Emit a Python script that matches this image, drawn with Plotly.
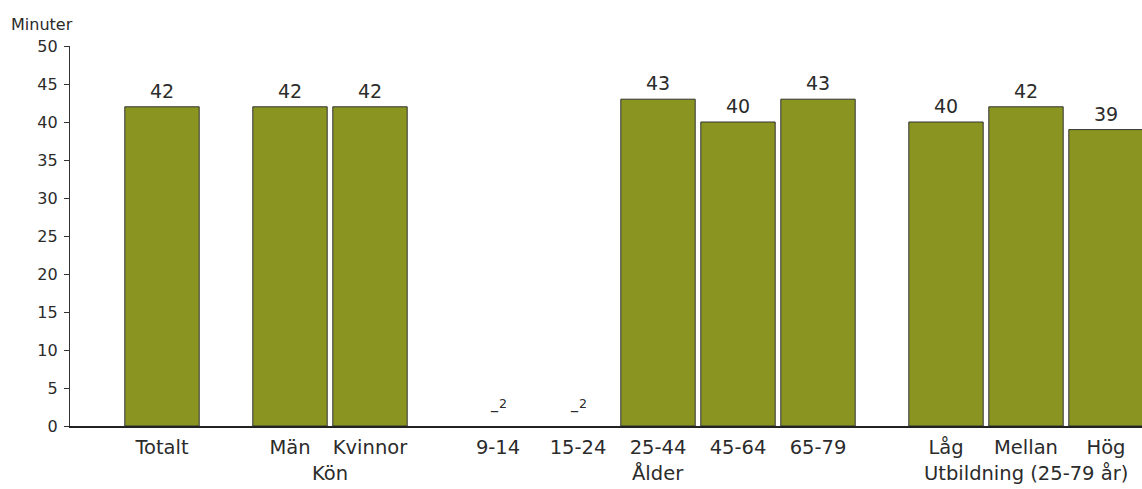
import plotly.graph_objects as go

# ---- data ----
categories = ["Totalt", "Män", "Kvinnor", "9-14", "15-24", "25-44", "45-64", "65-79", "Låg", "Mellan", "Hög"]
groups = ["", "Kön", "Kön", "Ålder", "Ålder", "Ålder", "Ålder", "Ålder",
          "Utbildning (25-79 år)", "Utbildning (25-79 år)", "Utbildning (25-79 år)"]
minutes = [42, 42, 42, None, None, 43, 40, 43, 40, 42, 39]
missing_label = "–<sup>2</sup>"
y_ticks = [0, 5, 10, 15, 20, 25, 30, 35, 40, 45, 50]

# ---- layout positions (slots with extra gap between groups) ----
GROUP_GAP = 0.6
positions = []
p = 0.0
for i, g in enumerate(groups):
    if i > 0:
        p += 1.0 + (GROUP_GAP if g != groups[i - 1] else 0.0)
    positions.append(p)

BAR_COLOR = "#8A9421"
FONT = "DejaVu Sans, Liberation Sans, Arial, sans-serif"
TXT = "#2b2b2b"

fig = go.Figure()
fig.add_trace(go.Bar(
    x=positions,
    y=minutes,
    width=0.93,
    marker=dict(color=BAR_COLOR, line=dict(color="#333333", width=1)),
    hoverinfo="skip",
))

annotations = []
# value labels
for x, v in zip(positions, minutes):
    if v is not None:
        annotations.append(dict(x=x, y=v, xref="x", yref="y", text=str(v),
                                showarrow=False, yanchor="bottom", yshift=3,
                                font=dict(size=19, color=TXT, family=FONT)))
# missing value markers
for x, v in zip(positions, minutes):
    if v is None:
        annotations.append(dict(x=x, y=0, xref="x", yref="y", text=missing_label,
                                showarrow=False, yanchor="bottom", yshift=4,
                                font=dict(size=18, color=TXT, family=FONT)))
# group labels
seen = []
for g in groups:
    if g and g not in seen:
        seen.append(g)
for g in seen:
    xs = [x for x, gg in zip(positions, groups) if gg == g]
    annotations.append(dict(x=(min(xs) + max(xs)) / 2, y=0, xref="x", yref="paper",
                            text=g, showarrow=False, yanchor="top", yshift=-34,
                            font=dict(size=19.5, color=TXT, family=FONT)))
# y axis title
annotations.append(dict(x=0, y=1, xref="paper", yref="paper", text="Minuter",
                        showarrow=False, xanchor="left", yanchor="bottom",
                        xshift=-61, yshift=10, font=dict(size=16, color=TXT, family=FONT)))

fig.update_layout(
    width=1142, height=489,
    margin=dict(l=70, r=0, t=46, b=63),
    plot_bgcolor="white", paper_bgcolor="white",
    showlegend=False,
    font=dict(family=FONT, color=TXT),
    annotations=annotations,
    xaxis=dict(
        range=[positions[0] - 1.15, positions[-1] + 0.45],
        tickvals=positions, ticktext=categories,
        showgrid=False, zeroline=False,
        showline=True, linecolor="#222222", linewidth=1.5,
        ticks="", ticklabelstandoff=3,
        tickfont=dict(size=19.5, color=TXT, family=FONT),
        fixedrange=True,
    ),
    yaxis=dict(
        range=[0, 50], tickvals=y_ticks,
        showgrid=False, zeroline=False,
        showline=True, linecolor="#333333", linewidth=1.2,
        ticks="outside", ticklen=5, tickcolor="#333333",
        ticklabelstandoff=3,
        tickfont=dict(size=16, color=TXT, family=FONT),
        fixedrange=True,
    ),
)

fig.write_html("out.html", config={"displayModeBar": False},
               post_script="document.body.style.margin='0';document.body.style.overflow='hidden';")
